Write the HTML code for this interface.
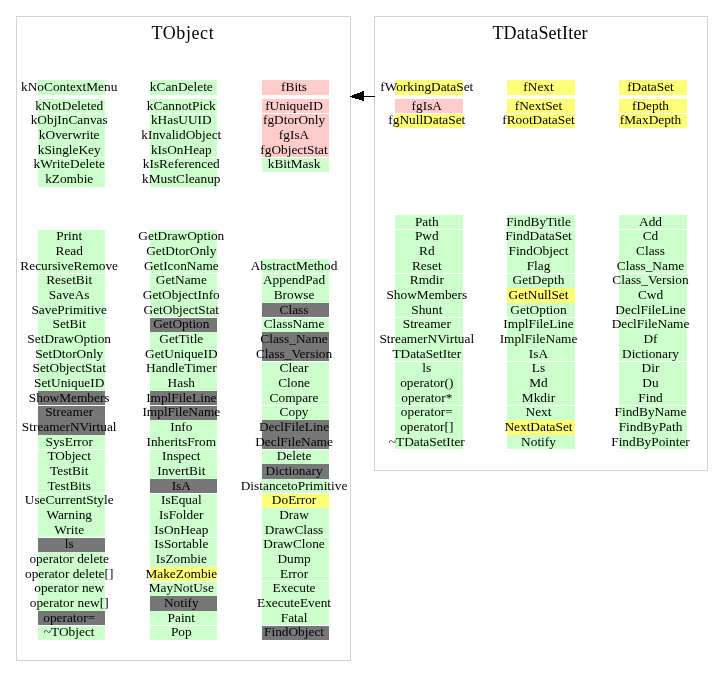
<!DOCTYPE html>
<html><head><meta charset="utf-8"><style>
html,body{margin:0;padding:0;background:#fff;}
body{width:723px;height:687px;position:relative;overflow:hidden;font-family:"Liberation Serif",serif;color:#000;}
.c{position:absolute;}
.t{position:absolute;white-space:pre;width:0;}
.t span{position:absolute;left:0;top:0;transform:translateX(-50%);}
.b{position:absolute;background:#d3d3d3;}
.a{position:absolute;background:#000;}
</style></head><body>

<div class="b" style="left:16px;top:16px;width:335px;height:1px"></div>
<div class="b" style="left:16px;top:660px;width:335px;height:1px"></div>
<div class="b" style="left:16px;top:16px;width:1px;height:645px"></div>
<div class="b" style="left:350px;top:16px;width:1px;height:645px"></div>
<div class="b" style="left:374px;top:16px;width:334px;height:1px"></div>
<div class="b" style="left:374px;top:470px;width:334px;height:1px"></div>
<div class="b" style="left:374px;top:16px;width:1px;height:455px"></div>
<div class="b" style="left:707px;top:16px;width:1px;height:455px"></div>
<div class="c" style="left:38px;top:80px;width:67px;height:15px;background:#ccffcc"></div>
<div class="c" style="left:150px;top:80px;width:67px;height:15px;background:#ccffcc"></div>
<div class="c" style="left:262px;top:80px;width:67px;height:15px;background:#ffcccc"></div>
<div class="c" style="left:395px;top:80px;width:68px;height:15px;background:#ffff77"></div>
<div class="c" style="left:507px;top:80px;width:68px;height:15px;background:#ffff77"></div>
<div class="c" style="left:619px;top:80px;width:68px;height:15px;background:#ffff77"></div>
<div class="c" style="left:38px;top:99px;width:67px;height:14px;background:#ccffcc"></div>
<div class="c" style="left:38px;top:114px;width:67px;height:14px;background:#ccffcc"></div>
<div class="c" style="left:38px;top:128px;width:67px;height:15px;background:#ccffcc"></div>
<div class="c" style="left:38px;top:143px;width:67px;height:14px;background:#ccffcc"></div>
<div class="c" style="left:38px;top:158px;width:67px;height:14px;background:#ccffcc"></div>
<div class="c" style="left:38px;top:172px;width:67px;height:15px;background:#ccffcc"></div>
<div class="c" style="left:150px;top:99px;width:67px;height:14px;background:#ccffcc"></div>
<div class="c" style="left:150px;top:114px;width:67px;height:14px;background:#ccffcc"></div>
<div class="c" style="left:150px;top:128px;width:67px;height:15px;background:#ccffcc"></div>
<div class="c" style="left:150px;top:143px;width:67px;height:14px;background:#ccffcc"></div>
<div class="c" style="left:150px;top:158px;width:67px;height:14px;background:#ccffcc"></div>
<div class="c" style="left:150px;top:172px;width:67px;height:15px;background:#ccffcc"></div>
<div class="c" style="left:262px;top:99px;width:67px;height:14px;background:#ffcccc"></div>
<div class="c" style="left:262px;top:114px;width:67px;height:14px;background:#ffcccc"></div>
<div class="c" style="left:262px;top:128px;width:67px;height:15px;background:#ffcccc"></div>
<div class="c" style="left:262px;top:143px;width:67px;height:14px;background:#ffcccc"></div>
<div class="c" style="left:262px;top:158px;width:67px;height:14px;background:#ccffcc"></div>
<div class="c" style="left:395px;top:99px;width:68px;height:14px;background:#ffcccc"></div>
<div class="c" style="left:395px;top:114px;width:68px;height:14px;background:#ffff77"></div>
<div class="c" style="left:507px;top:99px;width:68px;height:14px;background:#ffff77"></div>
<div class="c" style="left:507px;top:114px;width:68px;height:14px;background:#ffff77"></div>
<div class="c" style="left:619px;top:99px;width:68px;height:14px;background:#ffff77"></div>
<div class="c" style="left:619px;top:114px;width:68px;height:14px;background:#ffff77"></div>
<div class="c" style="left:38px;top:230px;width:67px;height:14px;background:#ccffcc"></div>
<div class="c" style="left:38px;top:244px;width:67px;height:15px;background:#ccffcc"></div>
<div class="c" style="left:38px;top:259px;width:67px;height:14px;background:#ccffcc"></div>
<div class="c" style="left:38px;top:274px;width:67px;height:14px;background:#ccffcc"></div>
<div class="c" style="left:38px;top:288px;width:67px;height:15px;background:#ccffcc"></div>
<div class="c" style="left:38px;top:303px;width:67px;height:14px;background:#ccffcc"></div>
<div class="c" style="left:38px;top:318px;width:67px;height:14px;background:#ccffcc"></div>
<div class="c" style="left:38px;top:332px;width:67px;height:15px;background:#ccffcc"></div>
<div class="c" style="left:38px;top:347px;width:67px;height:14px;background:#ccffcc"></div>
<div class="c" style="left:38px;top:362px;width:67px;height:14px;background:#ccffcc"></div>
<div class="c" style="left:38px;top:376px;width:67px;height:15px;background:#ccffcc"></div>
<div class="c" style="left:38px;top:391px;width:67px;height:14px;background:#777777"></div>
<div class="c" style="left:38px;top:406px;width:67px;height:14px;background:#777777"></div>
<div class="c" style="left:38px;top:420px;width:67px;height:15px;background:#777777"></div>
<div class="c" style="left:38px;top:435px;width:67px;height:14px;background:#ccffcc"></div>
<div class="c" style="left:38px;top:450px;width:67px;height:14px;background:#ccffcc"></div>
<div class="c" style="left:38px;top:464px;width:67px;height:15px;background:#ccffcc"></div>
<div class="c" style="left:38px;top:479px;width:67px;height:14px;background:#ccffcc"></div>
<div class="c" style="left:38px;top:494px;width:67px;height:14px;background:#ccffcc"></div>
<div class="c" style="left:38px;top:508px;width:67px;height:15px;background:#ccffcc"></div>
<div class="c" style="left:38px;top:523px;width:67px;height:14px;background:#ccffcc"></div>
<div class="c" style="left:38px;top:538px;width:67px;height:14px;background:#777777"></div>
<div class="c" style="left:38px;top:552px;width:67px;height:15px;background:#ccffcc"></div>
<div class="c" style="left:38px;top:567px;width:67px;height:14px;background:#ccffcc"></div>
<div class="c" style="left:38px;top:582px;width:67px;height:14px;background:#ccffcc"></div>
<div class="c" style="left:38px;top:596px;width:67px;height:15px;background:#ccffcc"></div>
<div class="c" style="left:38px;top:611px;width:67px;height:14px;background:#777777"></div>
<div class="c" style="left:38px;top:626px;width:67px;height:14px;background:#ccffcc"></div>
<div class="c" style="left:150px;top:230px;width:67px;height:14px;background:#ccffcc"></div>
<div class="c" style="left:150px;top:244px;width:67px;height:15px;background:#ccffcc"></div>
<div class="c" style="left:150px;top:259px;width:67px;height:14px;background:#ccffcc"></div>
<div class="c" style="left:150px;top:274px;width:67px;height:14px;background:#ccffcc"></div>
<div class="c" style="left:150px;top:288px;width:67px;height:15px;background:#ccffcc"></div>
<div class="c" style="left:150px;top:303px;width:67px;height:14px;background:#ccffcc"></div>
<div class="c" style="left:150px;top:318px;width:67px;height:14px;background:#777777"></div>
<div class="c" style="left:150px;top:332px;width:67px;height:15px;background:#ccffcc"></div>
<div class="c" style="left:150px;top:347px;width:67px;height:14px;background:#ccffcc"></div>
<div class="c" style="left:150px;top:362px;width:67px;height:14px;background:#ccffcc"></div>
<div class="c" style="left:150px;top:376px;width:67px;height:15px;background:#ccffcc"></div>
<div class="c" style="left:150px;top:391px;width:67px;height:14px;background:#777777"></div>
<div class="c" style="left:150px;top:406px;width:67px;height:14px;background:#777777"></div>
<div class="c" style="left:150px;top:420px;width:67px;height:15px;background:#ccffcc"></div>
<div class="c" style="left:150px;top:435px;width:67px;height:14px;background:#ccffcc"></div>
<div class="c" style="left:150px;top:450px;width:67px;height:14px;background:#ccffcc"></div>
<div class="c" style="left:150px;top:464px;width:67px;height:15px;background:#ccffcc"></div>
<div class="c" style="left:150px;top:479px;width:67px;height:14px;background:#777777"></div>
<div class="c" style="left:150px;top:494px;width:67px;height:14px;background:#ccffcc"></div>
<div class="c" style="left:150px;top:508px;width:67px;height:15px;background:#ccffcc"></div>
<div class="c" style="left:150px;top:523px;width:67px;height:14px;background:#ccffcc"></div>
<div class="c" style="left:150px;top:538px;width:67px;height:14px;background:#ccffcc"></div>
<div class="c" style="left:150px;top:552px;width:67px;height:15px;background:#ccffcc"></div>
<div class="c" style="left:150px;top:567px;width:67px;height:14px;background:#ffff77"></div>
<div class="c" style="left:150px;top:582px;width:67px;height:14px;background:#ccffcc"></div>
<div class="c" style="left:150px;top:596px;width:67px;height:15px;background:#777777"></div>
<div class="c" style="left:150px;top:611px;width:67px;height:14px;background:#ccffcc"></div>
<div class="c" style="left:150px;top:626px;width:67px;height:14px;background:#ccffcc"></div>
<div class="c" style="left:262px;top:259px;width:67px;height:14px;background:#ccffcc"></div>
<div class="c" style="left:262px;top:274px;width:67px;height:14px;background:#ccffcc"></div>
<div class="c" style="left:262px;top:288px;width:67px;height:15px;background:#ccffcc"></div>
<div class="c" style="left:262px;top:303px;width:67px;height:14px;background:#777777"></div>
<div class="c" style="left:262px;top:318px;width:67px;height:14px;background:#ccffcc"></div>
<div class="c" style="left:262px;top:332px;width:67px;height:15px;background:#777777"></div>
<div class="c" style="left:262px;top:347px;width:67px;height:14px;background:#777777"></div>
<div class="c" style="left:262px;top:362px;width:67px;height:14px;background:#ccffcc"></div>
<div class="c" style="left:262px;top:376px;width:67px;height:15px;background:#ccffcc"></div>
<div class="c" style="left:262px;top:391px;width:67px;height:14px;background:#ccffcc"></div>
<div class="c" style="left:262px;top:406px;width:67px;height:14px;background:#ccffcc"></div>
<div class="c" style="left:262px;top:420px;width:67px;height:15px;background:#777777"></div>
<div class="c" style="left:262px;top:435px;width:67px;height:14px;background:#777777"></div>
<div class="c" style="left:262px;top:450px;width:67px;height:14px;background:#ccffcc"></div>
<div class="c" style="left:262px;top:464px;width:67px;height:15px;background:#777777"></div>
<div class="c" style="left:262px;top:479px;width:67px;height:14px;background:#ccffcc"></div>
<div class="c" style="left:262px;top:494px;width:67px;height:14px;background:#ffff77"></div>
<div class="c" style="left:262px;top:508px;width:67px;height:15px;background:#ccffcc"></div>
<div class="c" style="left:262px;top:523px;width:67px;height:14px;background:#ccffcc"></div>
<div class="c" style="left:262px;top:538px;width:67px;height:14px;background:#ccffcc"></div>
<div class="c" style="left:262px;top:552px;width:67px;height:15px;background:#ccffcc"></div>
<div class="c" style="left:262px;top:567px;width:67px;height:14px;background:#ccffcc"></div>
<div class="c" style="left:262px;top:582px;width:67px;height:14px;background:#ccffcc"></div>
<div class="c" style="left:262px;top:596px;width:67px;height:15px;background:#ccffcc"></div>
<div class="c" style="left:262px;top:611px;width:67px;height:14px;background:#ccffcc"></div>
<div class="c" style="left:262px;top:626px;width:67px;height:14px;background:#777777"></div>
<div class="c" style="left:395px;top:215px;width:68px;height:14px;background:#ccffcc"></div>
<div class="c" style="left:395px;top:230px;width:68px;height:14px;background:#ccffcc"></div>
<div class="c" style="left:395px;top:244px;width:68px;height:15px;background:#ccffcc"></div>
<div class="c" style="left:395px;top:259px;width:68px;height:14px;background:#ccffcc"></div>
<div class="c" style="left:395px;top:274px;width:68px;height:14px;background:#ccffcc"></div>
<div class="c" style="left:395px;top:288px;width:68px;height:15px;background:#ccffcc"></div>
<div class="c" style="left:395px;top:303px;width:68px;height:14px;background:#ccffcc"></div>
<div class="c" style="left:395px;top:318px;width:68px;height:14px;background:#ccffcc"></div>
<div class="c" style="left:395px;top:332px;width:68px;height:15px;background:#ccffcc"></div>
<div class="c" style="left:395px;top:347px;width:68px;height:14px;background:#ccffcc"></div>
<div class="c" style="left:395px;top:362px;width:68px;height:14px;background:#ccffcc"></div>
<div class="c" style="left:395px;top:376px;width:68px;height:15px;background:#ccffcc"></div>
<div class="c" style="left:395px;top:391px;width:68px;height:14px;background:#ccffcc"></div>
<div class="c" style="left:395px;top:406px;width:68px;height:14px;background:#ccffcc"></div>
<div class="c" style="left:395px;top:420px;width:68px;height:15px;background:#ccffcc"></div>
<div class="c" style="left:395px;top:435px;width:68px;height:14px;background:#ccffcc"></div>
<div class="c" style="left:507px;top:215px;width:68px;height:14px;background:#ccffcc"></div>
<div class="c" style="left:507px;top:230px;width:68px;height:14px;background:#ccffcc"></div>
<div class="c" style="left:507px;top:244px;width:68px;height:15px;background:#ccffcc"></div>
<div class="c" style="left:507px;top:259px;width:68px;height:14px;background:#ccffcc"></div>
<div class="c" style="left:507px;top:274px;width:68px;height:14px;background:#ccffcc"></div>
<div class="c" style="left:507px;top:288px;width:68px;height:15px;background:#ffff77"></div>
<div class="c" style="left:507px;top:303px;width:68px;height:14px;background:#ccffcc"></div>
<div class="c" style="left:507px;top:318px;width:68px;height:14px;background:#ccffcc"></div>
<div class="c" style="left:507px;top:332px;width:68px;height:15px;background:#ccffcc"></div>
<div class="c" style="left:507px;top:347px;width:68px;height:14px;background:#ccffcc"></div>
<div class="c" style="left:507px;top:362px;width:68px;height:14px;background:#ccffcc"></div>
<div class="c" style="left:507px;top:376px;width:68px;height:15px;background:#ccffcc"></div>
<div class="c" style="left:507px;top:391px;width:68px;height:14px;background:#ccffcc"></div>
<div class="c" style="left:507px;top:406px;width:68px;height:14px;background:#ccffcc"></div>
<div class="c" style="left:507px;top:420px;width:68px;height:15px;background:#ffff77"></div>
<div class="c" style="left:507px;top:435px;width:68px;height:14px;background:#ccffcc"></div>
<div class="c" style="left:619px;top:215px;width:68px;height:14px;background:#ccffcc"></div>
<div class="c" style="left:619px;top:230px;width:68px;height:14px;background:#ccffcc"></div>
<div class="c" style="left:619px;top:244px;width:68px;height:15px;background:#ccffcc"></div>
<div class="c" style="left:619px;top:259px;width:68px;height:14px;background:#ccffcc"></div>
<div class="c" style="left:619px;top:274px;width:68px;height:14px;background:#ccffcc"></div>
<div class="c" style="left:619px;top:288px;width:68px;height:15px;background:#ccffcc"></div>
<div class="c" style="left:619px;top:303px;width:68px;height:14px;background:#ccffcc"></div>
<div class="c" style="left:619px;top:318px;width:68px;height:14px;background:#ccffcc"></div>
<div class="c" style="left:619px;top:332px;width:68px;height:15px;background:#ccffcc"></div>
<div class="c" style="left:619px;top:347px;width:68px;height:14px;background:#ccffcc"></div>
<div class="c" style="left:619px;top:362px;width:68px;height:14px;background:#ccffcc"></div>
<div class="c" style="left:619px;top:376px;width:68px;height:15px;background:#ccffcc"></div>
<div class="c" style="left:619px;top:391px;width:68px;height:14px;background:#ccffcc"></div>
<div class="c" style="left:619px;top:406px;width:68px;height:14px;background:#ccffcc"></div>
<div class="c" style="left:619px;top:420px;width:68px;height:15px;background:#ccffcc"></div>
<div class="c" style="left:619px;top:435px;width:68px;height:14px;background:#ccffcc"></div>
<div class="a" style="left:350px;top:96px;width:2px;height:1px"></div>
<div class="a" style="left:352px;top:95px;width:2px;height:3px"></div>
<div class="a" style="left:354px;top:94px;width:1px;height:4px"></div>
<div class="a" style="left:355px;top:94px;width:2px;height:5px"></div>
<div class="a" style="left:357px;top:93px;width:2px;height:6px"></div>
<div class="a" style="left:359px;top:93px;width:1px;height:7px"></div>
<div class="a" style="left:360px;top:92px;width:2px;height:8px"></div>
<div class="a" style="left:362px;top:91px;width:2px;height:10px"></div>
<div class="a" style="left:364px;top:96px;width:11px;height:1px"></div>
<div id="tx" style="position:absolute;left:0;top:0;width:723px;height:687px;will-change:transform">
<div class="t" style="left:69.20px;top:79.00px;font-size:13.33px;line-height:15px"><span>kNoContextMenu</span></div>
<div class="t" style="left:181.30px;top:79.00px;font-size:13.33px;line-height:15px"><span>kCanDelete</span></div>
<div class="t" style="left:294.05px;top:79.00px;font-size:13.33px;line-height:15px"><span>fBits</span></div>
<div class="t" style="left:426.80px;top:79.00px;font-size:13.33px;line-height:15px"><span>fWorkingDataSet</span></div>
<div class="t" style="left:538.50px;top:79.00px;font-size:13.33px;line-height:15px"><span>fNext</span></div>
<div class="t" style="left:650.50px;top:79.00px;font-size:13.33px;line-height:15px"><span>fDataSet</span></div>
<div class="t" style="left:69.20px;top:98.00px;font-size:13.33px;line-height:15px"><span>kNotDeleted</span></div>
<div class="t" style="left:69.20px;top:112.00px;font-size:13.33px;line-height:15px"><span>kObjInCanvas</span></div>
<div class="t" style="left:69.20px;top:127.00px;font-size:13.33px;line-height:15px"><span>kOverwrite</span></div>
<div class="t" style="left:69.20px;top:142.00px;font-size:13.33px;line-height:15px"><span>kSingleKey</span></div>
<div class="t" style="left:69.20px;top:156.00px;font-size:13.33px;line-height:15px"><span>kWriteDelete</span></div>
<div class="t" style="left:69.20px;top:171.00px;font-size:13.33px;line-height:15px"><span>kZombie</span></div>
<div class="t" style="left:181.30px;top:98.00px;font-size:13.33px;line-height:15px"><span>kCannotPick</span></div>
<div class="t" style="left:181.30px;top:112.00px;font-size:13.33px;line-height:15px"><span>kHasUUID</span></div>
<div class="t" style="left:181.30px;top:127.00px;font-size:13.33px;line-height:15px"><span>kInvalidObject</span></div>
<div class="t" style="left:181.30px;top:142.00px;font-size:13.33px;line-height:15px"><span>kIsOnHeap</span></div>
<div class="t" style="left:181.30px;top:156.00px;font-size:13.33px;line-height:15px"><span>kIsReferenced</span></div>
<div class="t" style="left:181.30px;top:171.00px;font-size:13.33px;line-height:15px"><span>kMustCleanup</span></div>
<div class="t" style="left:294.05px;top:98.00px;font-size:13.33px;line-height:15px"><span>fUniqueID</span></div>
<div class="t" style="left:294.05px;top:112.00px;font-size:13.33px;line-height:15px"><span>fgDtorOnly</span></div>
<div class="t" style="left:294.05px;top:127.00px;font-size:13.33px;line-height:15px"><span>fgIsA</span></div>
<div class="t" style="left:294.05px;top:142.00px;font-size:13.33px;line-height:15px"><span>fgObjectStat</span></div>
<div class="t" style="left:294.05px;top:156.00px;font-size:13.33px;line-height:15px"><span>kBitMask</span></div>
<div class="t" style="left:426.80px;top:98.00px;font-size:13.33px;line-height:15px"><span>fgIsA</span></div>
<div class="t" style="left:426.80px;top:112.00px;font-size:13.33px;line-height:15px"><span>fgNullDataSet</span></div>
<div class="t" style="left:538.50px;top:98.00px;font-size:13.33px;line-height:15px"><span>fNextSet</span></div>
<div class="t" style="left:538.50px;top:112.00px;font-size:13.33px;line-height:15px"><span>fRootDataSet</span></div>
<div class="t" style="left:650.50px;top:98.00px;font-size:13.33px;line-height:15px"><span>fDepth</span></div>
<div class="t" style="left:650.50px;top:112.00px;font-size:13.33px;line-height:15px"><span>fMaxDepth</span></div>
<div class="t" style="left:69.20px;top:228.00px;font-size:13.33px;line-height:15px"><span>Print</span></div>
<div class="t" style="left:69.20px;top:243.00px;font-size:13.33px;line-height:15px"><span>Read</span></div>
<div class="t" style="left:69.20px;top:258.00px;font-size:13.33px;line-height:15px"><span>RecursiveRemove</span></div>
<div class="t" style="left:69.20px;top:272.00px;font-size:13.33px;line-height:15px"><span>ResetBit</span></div>
<div class="t" style="left:69.20px;top:287.00px;font-size:13.33px;line-height:15px"><span>SaveAs</span></div>
<div class="t" style="left:69.20px;top:302.00px;font-size:13.33px;line-height:15px"><span>SavePrimitive</span></div>
<div class="t" style="left:69.20px;top:316.00px;font-size:13.33px;line-height:15px"><span>SetBit</span></div>
<div class="t" style="left:69.20px;top:331.00px;font-size:13.33px;line-height:15px"><span>SetDrawOption</span></div>
<div class="t" style="left:69.20px;top:346.00px;font-size:13.33px;line-height:15px"><span>SetDtorOnly</span></div>
<div class="t" style="left:69.20px;top:360.00px;font-size:13.33px;line-height:15px"><span>SetObjectStat</span></div>
<div class="t" style="left:69.20px;top:375.00px;font-size:13.33px;line-height:15px"><span>SetUniqueID</span></div>
<div class="t" style="left:69.20px;top:390.00px;font-size:13.33px;line-height:15px"><span>ShowMembers</span></div>
<div class="t" style="left:69.20px;top:404.00px;font-size:13.33px;line-height:15px"><span>Streamer</span></div>
<div class="t" style="left:69.20px;top:419.00px;font-size:13.33px;line-height:15px"><span>StreamerNVirtual</span></div>
<div class="t" style="left:69.20px;top:434.00px;font-size:13.33px;line-height:15px"><span>SysError</span></div>
<div class="t" style="left:69.20px;top:448.00px;font-size:13.33px;line-height:15px"><span>TObject</span></div>
<div class="t" style="left:69.20px;top:463.00px;font-size:13.33px;line-height:15px"><span>TestBit</span></div>
<div class="t" style="left:69.20px;top:478.00px;font-size:13.33px;line-height:15px"><span>TestBits</span></div>
<div class="t" style="left:69.20px;top:492.00px;font-size:13.33px;line-height:15px"><span>UseCurrentStyle</span></div>
<div class="t" style="left:69.20px;top:507.00px;font-size:13.33px;line-height:15px"><span>Warning</span></div>
<div class="t" style="left:69.20px;top:522.00px;font-size:13.33px;line-height:15px"><span>Write</span></div>
<div class="t" style="left:69.20px;top:536.00px;font-size:13.33px;line-height:15px"><span>ls</span></div>
<div class="t" style="left:69.20px;top:551.00px;font-size:13.33px;line-height:15px"><span>operator delete</span></div>
<div class="t" style="left:69.20px;top:566.00px;font-size:13.33px;line-height:15px"><span>operator delete[]</span></div>
<div class="t" style="left:69.20px;top:580.00px;font-size:13.33px;line-height:15px"><span>operator new</span></div>
<div class="t" style="left:69.20px;top:595.00px;font-size:13.33px;line-height:15px"><span>operator new[]</span></div>
<div class="t" style="left:69.20px;top:610.00px;font-size:13.33px;line-height:15px"><span>operator=</span></div>
<div class="t" style="left:69.20px;top:624.00px;font-size:13.33px;line-height:15px"><span>~TObject</span></div>
<div class="t" style="left:181.30px;top:228.00px;font-size:13.33px;line-height:15px"><span>GetDrawOption</span></div>
<div class="t" style="left:181.30px;top:243.00px;font-size:13.33px;line-height:15px"><span>GetDtorOnly</span></div>
<div class="t" style="left:181.30px;top:258.00px;font-size:13.33px;line-height:15px"><span>GetIconName</span></div>
<div class="t" style="left:181.30px;top:272.00px;font-size:13.33px;line-height:15px"><span>GetName</span></div>
<div class="t" style="left:181.30px;top:287.00px;font-size:13.33px;line-height:15px"><span>GetObjectInfo</span></div>
<div class="t" style="left:181.30px;top:302.00px;font-size:13.33px;line-height:15px"><span>GetObjectStat</span></div>
<div class="t" style="left:181.30px;top:316.00px;font-size:13.33px;line-height:15px"><span>GetOption</span></div>
<div class="t" style="left:181.30px;top:331.00px;font-size:13.33px;line-height:15px"><span>GetTitle</span></div>
<div class="t" style="left:181.30px;top:346.00px;font-size:13.33px;line-height:15px"><span>GetUniqueID</span></div>
<div class="t" style="left:181.30px;top:360.00px;font-size:13.33px;line-height:15px"><span>HandleTimer</span></div>
<div class="t" style="left:181.30px;top:375.00px;font-size:13.33px;line-height:15px"><span>Hash</span></div>
<div class="t" style="left:181.30px;top:390.00px;font-size:13.33px;line-height:15px"><span>ImplFileLine</span></div>
<div class="t" style="left:181.30px;top:404.00px;font-size:13.33px;line-height:15px"><span>ImplFileName</span></div>
<div class="t" style="left:181.30px;top:419.00px;font-size:13.33px;line-height:15px"><span>Info</span></div>
<div class="t" style="left:181.30px;top:434.00px;font-size:13.33px;line-height:15px"><span>InheritsFrom</span></div>
<div class="t" style="left:181.30px;top:448.00px;font-size:13.33px;line-height:15px"><span>Inspect</span></div>
<div class="t" style="left:181.30px;top:463.00px;font-size:13.33px;line-height:15px"><span>InvertBit</span></div>
<div class="t" style="left:181.30px;top:478.00px;font-size:13.33px;line-height:15px"><span>IsA</span></div>
<div class="t" style="left:181.30px;top:492.00px;font-size:13.33px;line-height:15px"><span>IsEqual</span></div>
<div class="t" style="left:181.30px;top:507.00px;font-size:13.33px;line-height:15px"><span>IsFolder</span></div>
<div class="t" style="left:181.30px;top:522.00px;font-size:13.33px;line-height:15px"><span>IsOnHeap</span></div>
<div class="t" style="left:181.30px;top:536.00px;font-size:13.33px;line-height:15px"><span>IsSortable</span></div>
<div class="t" style="left:181.30px;top:551.00px;font-size:13.33px;line-height:15px"><span>IsZombie</span></div>
<div class="t" style="left:181.30px;top:566.00px;font-size:13.33px;line-height:15px"><span>MakeZombie</span></div>
<div class="t" style="left:181.30px;top:580.00px;font-size:13.33px;line-height:15px"><span>MayNotUse</span></div>
<div class="t" style="left:181.30px;top:595.00px;font-size:13.33px;line-height:15px"><span>Notify</span></div>
<div class="t" style="left:181.30px;top:610.00px;font-size:13.33px;line-height:15px"><span>Paint</span></div>
<div class="t" style="left:181.30px;top:624.00px;font-size:13.33px;line-height:15px"><span>Pop</span></div>
<div class="t" style="left:294.05px;top:258.00px;font-size:13.33px;line-height:15px"><span>AbstractMethod</span></div>
<div class="t" style="left:294.05px;top:272.00px;font-size:13.33px;line-height:15px"><span>AppendPad</span></div>
<div class="t" style="left:294.05px;top:287.00px;font-size:13.33px;line-height:15px"><span>Browse</span></div>
<div class="t" style="left:294.05px;top:302.00px;font-size:13.33px;line-height:15px"><span>Class</span></div>
<div class="t" style="left:294.05px;top:316.00px;font-size:13.33px;line-height:15px"><span>ClassName</span></div>
<div class="t" style="left:294.05px;top:331.00px;font-size:13.33px;line-height:15px"><span>Class_Name</span></div>
<div class="t" style="left:294.05px;top:346.00px;font-size:13.33px;line-height:15px"><span>Class_Version</span></div>
<div class="t" style="left:294.05px;top:360.00px;font-size:13.33px;line-height:15px"><span>Clear</span></div>
<div class="t" style="left:294.05px;top:375.00px;font-size:13.33px;line-height:15px"><span>Clone</span></div>
<div class="t" style="left:294.05px;top:390.00px;font-size:13.33px;line-height:15px"><span>Compare</span></div>
<div class="t" style="left:294.05px;top:404.00px;font-size:13.33px;line-height:15px"><span>Copy</span></div>
<div class="t" style="left:294.05px;top:419.00px;font-size:13.33px;line-height:15px"><span>DeclFileLine</span></div>
<div class="t" style="left:294.05px;top:434.00px;font-size:13.33px;line-height:15px"><span>DeclFileName</span></div>
<div class="t" style="left:294.05px;top:448.00px;font-size:13.33px;line-height:15px"><span>Delete</span></div>
<div class="t" style="left:294.05px;top:463.00px;font-size:13.33px;line-height:15px"><span>Dictionary</span></div>
<div class="t" style="left:294.05px;top:478.00px;font-size:13.33px;line-height:15px"><span>DistancetoPrimitive</span></div>
<div class="t" style="left:294.05px;top:492.00px;font-size:13.33px;line-height:15px"><span>DoError</span></div>
<div class="t" style="left:294.05px;top:507.00px;font-size:13.33px;line-height:15px"><span>Draw</span></div>
<div class="t" style="left:294.05px;top:522.00px;font-size:13.33px;line-height:15px"><span>DrawClass</span></div>
<div class="t" style="left:294.05px;top:536.00px;font-size:13.33px;line-height:15px"><span>DrawClone</span></div>
<div class="t" style="left:294.05px;top:551.00px;font-size:13.33px;line-height:15px"><span>Dump</span></div>
<div class="t" style="left:294.05px;top:566.00px;font-size:13.33px;line-height:15px"><span>Error</span></div>
<div class="t" style="left:294.05px;top:580.00px;font-size:13.33px;line-height:15px"><span>Execute</span></div>
<div class="t" style="left:294.05px;top:595.00px;font-size:13.33px;line-height:15px"><span>ExecuteEvent</span></div>
<div class="t" style="left:294.05px;top:610.00px;font-size:13.33px;line-height:15px"><span>Fatal</span></div>
<div class="t" style="left:294.05px;top:624.00px;font-size:13.33px;line-height:15px"><span>FindObject</span></div>
<div class="t" style="left:426.80px;top:214.00px;font-size:13.33px;line-height:15px"><span>Path</span></div>
<div class="t" style="left:426.80px;top:228.00px;font-size:13.33px;line-height:15px"><span>Pwd</span></div>
<div class="t" style="left:426.80px;top:243.00px;font-size:13.33px;line-height:15px"><span>Rd</span></div>
<div class="t" style="left:426.80px;top:258.00px;font-size:13.33px;line-height:15px"><span>Reset</span></div>
<div class="t" style="left:426.80px;top:272.00px;font-size:13.33px;line-height:15px"><span>Rmdir</span></div>
<div class="t" style="left:426.80px;top:287.00px;font-size:13.33px;line-height:15px"><span>ShowMembers</span></div>
<div class="t" style="left:426.80px;top:302.00px;font-size:13.33px;line-height:15px"><span>Shunt</span></div>
<div class="t" style="left:426.80px;top:316.00px;font-size:13.33px;line-height:15px"><span>Streamer</span></div>
<div class="t" style="left:426.80px;top:331.00px;font-size:13.33px;line-height:15px"><span>StreamerNVirtual</span></div>
<div class="t" style="left:426.80px;top:346.00px;font-size:13.33px;line-height:15px"><span>TDataSetIter</span></div>
<div class="t" style="left:426.80px;top:360.00px;font-size:13.33px;line-height:15px"><span>ls</span></div>
<div class="t" style="left:426.80px;top:375.00px;font-size:13.33px;line-height:15px"><span>operator()</span></div>
<div class="t" style="left:426.80px;top:390.00px;font-size:13.33px;line-height:15px"><span>operator*</span></div>
<div class="t" style="left:426.80px;top:404.00px;font-size:13.33px;line-height:15px"><span>operator=</span></div>
<div class="t" style="left:426.80px;top:419.00px;font-size:13.33px;line-height:15px"><span>operator[]</span></div>
<div class="t" style="left:426.80px;top:434.00px;font-size:13.33px;line-height:15px"><span>~TDataSetIter</span></div>
<div class="t" style="left:538.50px;top:214.00px;font-size:13.33px;line-height:15px"><span>FindByTitle</span></div>
<div class="t" style="left:538.50px;top:228.00px;font-size:13.33px;line-height:15px"><span>FindDataSet</span></div>
<div class="t" style="left:538.50px;top:243.00px;font-size:13.33px;line-height:15px"><span>FindObject</span></div>
<div class="t" style="left:538.50px;top:258.00px;font-size:13.33px;line-height:15px"><span>Flag</span></div>
<div class="t" style="left:538.50px;top:272.00px;font-size:13.33px;line-height:15px"><span>GetDepth</span></div>
<div class="t" style="left:538.50px;top:287.00px;font-size:13.33px;line-height:15px"><span>GetNullSet</span></div>
<div class="t" style="left:538.50px;top:302.00px;font-size:13.33px;line-height:15px"><span>GetOption</span></div>
<div class="t" style="left:538.50px;top:316.00px;font-size:13.33px;line-height:15px"><span>ImplFileLine</span></div>
<div class="t" style="left:538.50px;top:331.00px;font-size:13.33px;line-height:15px"><span>ImplFileName</span></div>
<div class="t" style="left:538.50px;top:346.00px;font-size:13.33px;line-height:15px"><span>IsA</span></div>
<div class="t" style="left:538.50px;top:360.00px;font-size:13.33px;line-height:15px"><span>Ls</span></div>
<div class="t" style="left:538.50px;top:375.00px;font-size:13.33px;line-height:15px"><span>Md</span></div>
<div class="t" style="left:538.50px;top:390.00px;font-size:13.33px;line-height:15px"><span>Mkdir</span></div>
<div class="t" style="left:538.50px;top:404.00px;font-size:13.33px;line-height:15px"><span>Next</span></div>
<div class="t" style="left:538.50px;top:419.00px;font-size:13.33px;line-height:15px"><span>NextDataSet</span></div>
<div class="t" style="left:538.50px;top:434.00px;font-size:13.33px;line-height:15px"><span>Notify</span></div>
<div class="t" style="left:650.50px;top:214.00px;font-size:13.33px;line-height:15px"><span>Add</span></div>
<div class="t" style="left:650.50px;top:228.00px;font-size:13.33px;line-height:15px"><span>Cd</span></div>
<div class="t" style="left:650.50px;top:243.00px;font-size:13.33px;line-height:15px"><span>Class</span></div>
<div class="t" style="left:650.50px;top:258.00px;font-size:13.33px;line-height:15px"><span>Class_Name</span></div>
<div class="t" style="left:650.50px;top:272.00px;font-size:13.33px;line-height:15px"><span>Class_Version</span></div>
<div class="t" style="left:650.50px;top:287.00px;font-size:13.33px;line-height:15px"><span>Cwd</span></div>
<div class="t" style="left:650.50px;top:302.00px;font-size:13.33px;line-height:15px"><span>DeclFileLine</span></div>
<div class="t" style="left:650.50px;top:316.00px;font-size:13.33px;line-height:15px"><span>DeclFileName</span></div>
<div class="t" style="left:650.50px;top:331.00px;font-size:13.33px;line-height:15px"><span>Df</span></div>
<div class="t" style="left:650.50px;top:346.00px;font-size:13.33px;line-height:15px"><span>Dictionary</span></div>
<div class="t" style="left:650.50px;top:360.00px;font-size:13.33px;line-height:15px"><span>Dir</span></div>
<div class="t" style="left:650.50px;top:375.00px;font-size:13.33px;line-height:15px"><span>Du</span></div>
<div class="t" style="left:650.50px;top:390.00px;font-size:13.33px;line-height:15px"><span>Find</span></div>
<div class="t" style="left:650.50px;top:404.00px;font-size:13.33px;line-height:15px"><span>FindByName</span></div>
<div class="t" style="left:650.50px;top:419.00px;font-size:13.33px;line-height:15px"><span>FindByPath</span></div>
<div class="t" style="left:650.50px;top:434.00px;font-size:13.33px;line-height:15px"><span>FindByPointer</span></div>
<div class="t" style="left:182.85px;top:23.00px;font-size:18.00px;line-height:20px;letter-spacing:0.60px"><span>TObject</span></div>
<div class="t" style="left:540.10px;top:23.00px;font-size:18.00px;line-height:20px;letter-spacing:0.20px"><span>TDataSetIter</span></div>
</div>
</body></html>
